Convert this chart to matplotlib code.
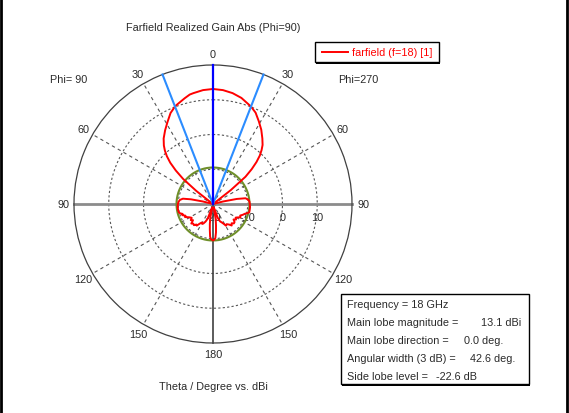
import numpy as np
import matplotlib
matplotlib.use('Agg')
import matplotlib.pyplot as plt
from matplotlib.patches import Rectangle
from matplotlib.lines import Line2D
from matplotlib.transforms import ScaledTranslation

plt.rcParams['font.family'] = 'Liberation Sans'

# Farfield realized gain (dBi) vs theta, Phi=90 cut (left half) and Phi=270 (right half)
theta_phi90 = [0, 5, 10, 12, 15, 20, 21.3, 25, 29, 33, 37, 40, 42, 44, 46, 48, 50, 52, 54,
               60, 70, 74, 76, 78, 80, 83, 86, 90, 95, 100, 104, 106, 108, 110, 113, 115,
               118, 120, 123, 126, 129, 132, 135, 138, 141, 143, 146, 149, 152, 154, 157,
               160, 163, 166, 169, 171, 173, 175, 177, 180]
gain_phi90 = [13.1, 12.9, 12.4, 12.2, 11.5, 10.4, 10.1, 8.9, 7.0, 5.3, 3.6, 2.0, 0.7, -0.9,
              -2.9, -5.6, -8.8, -14.0, -19.5, -25, -25, -22, -17, -13.5, -11.2, -10.4, -10.1,
              -9.9, -9.8, -9.8, -9.9, -10.2, -10.8, -10.6, -11.4, -11.1, -11.9, -12.3, -12.7,
              -12.1, -12.6, -11.6, -12.0, -11.8, -12.4, -12.2, -13.2, -13.8, -13.5, -13.8,
              -14.5, -15.5, -18.5, -19.0, -16.0, -14.2, -12.5, -10.5, -9.8, -9.6]

theta_phi270 = [0, 5, 10, 15, 21.3, 25, 29, 33, 37, 40, 42, 44, 46, 48, 50, 52, 54, 60, 70,
                74, 76, 78, 80, 83, 86, 90, 95, 100, 103, 105, 107, 110, 113, 116, 118, 121,
                124, 127, 130, 133, 136, 139, 142, 146, 149, 152, 155, 158, 161, 164, 167,
                170, 172, 174, 176, 178, 180]
gain_phi270 = [13.1, 12.9, 12.4, 11.6, 10.1, 9.0, 7.2, 5.5, 3.6, 2.2, 0.9, -0.6, -2.6, -5.0,
               -7.8, -13.5, -19.5, -25, -25, -22, -17, -13, -10.5, -9.8, -9.5, -9.4, -9.3,
               -9.3, -9.3, -9.8, -10.4, -10.9, -11.5, -11.2, -11.8, -12.4, -12.0, -12.6, -11.9,
               -11.8, -12.3, -11.8, -12.5, -13.0, -12.7, -13.6, -14.2, -14.6, -15.8, -18.5,
               -19.0, -15.5, -13.8, -11.8, -10.2, -9.7, -9.6]

main_lobe_dir = 0.0
beamwidth_3db = 42.6
side_lobe_gain = -9.5          # dBi, main lobe 13.1 - 22.6 dB
r_min, r_max = -20, 20
ring_levels = [-10, 0, 10]
radial_labels = [-20, -10, 0, 10]
spoke_angles = [30, 60, 120, 150]
angle_labels = [0, 30, 60, 90, 120, 150, 180]

info_labels = ['Frequency = 18 GHz', 'Main lobe magnitude =', 'Main lobe direction =',
               'Angular width (3 dB) =', 'Side lobe level =']
info_values = ['', '13.1 dBi', '0.0 deg.', '42.6 deg.', '-22.6 dB']
info_value_x = [0, 481, 464, 470, 436]

W, H = 569, 414
TXT = '#2a2a2a'
FS = 7.8
fig = plt.figure(figsize=(W / 100, H / 100), dpi=100)
fig.patch.set_facecolor('white')

# polar axes: centre (213,205) px, radius 139 px
cx, cy, R = 213, 205, 139
ax = fig.add_axes([(cx - R) / W, (H - cy - R) / H, 2 * R / W, 2 * R / H], projection='polar')
ax.set_theta_zero_location('N')
ax.set_theta_direction(-1)
ax.set_ylim(r_min, r_max)
ax.grid(False)
ax.set_xticks([])
ax.set_yticks([])
ax.spines['polar'].set_color('#404040')
ax.spines['polar'].set_linewidth(0.9)
ax.patch.set_alpha(0)

full = np.linspace(0, 2 * np.pi, 721)
for lvl in ring_levels:
    ax.plot(full, np.full_like(full, lvl), color='#555555', lw=0.8, ls=(0, (2, 2)), zorder=1)
for a in spoke_angles:
    for s in (-1, 1):
        t = np.deg2rad(s * a)
        ax.plot([t, t], [r_min, r_max], color='#555555', lw=0.8, ls=(0, (3, 3)), zorder=1)

# axis lines
ax.plot([-np.pi / 2, -np.pi / 2], [r_max, r_min], color='#8c8c8c', lw=2, zorder=2, clip_on=False)
ax.plot([np.pi / 2, np.pi / 2], [r_min, r_max], color='#8c8c8c', lw=2, zorder=2, clip_on=False)
ax.plot([np.pi, np.pi], [r_min, r_max], color='#404040', lw=1.2, zorder=2, clip_on=False)

shift = ax.transData + ScaledTranslation(0, -13 / 100, fig.dpi_scale_trans)
for v in radial_labels:
    ax.text(np.pi / 2, v, '%d' % v, ha='center', va='center', fontsize=FS,
            color=TXT, zorder=1.5, transform=shift)

r_lab = r_max + 11 / R * (r_max - r_min)
for a in angle_labels:
    for s in ((1,) if a in (0, 180) else (-1, 1)):
        ax.text(np.deg2rad(s * a), r_lab, str(a), ha='center', va='center', fontsize=FS,
                color=TXT)

# side lobe level circle
ax.plot(full, np.full_like(full, side_lobe_gain), color='#6f8f2a', lw=1.5, zorder=3)

# pattern
th = np.concatenate([-np.array(theta_phi90[::-1]), np.array(theta_phi270[1:])])
g = np.concatenate([np.array(gain_phi90[::-1]), np.array(gain_phi270[1:])])
g = np.clip(g, r_min, r_max)
line, = ax.plot(np.deg2rad(th), g, color='#ff0000', lw=1.4, zorder=4,
                label='farfield (f=18) [1]')

# 3 dB beamwidth lines and main lobe direction
for s in (-1, 1):
    t = np.deg2rad(main_lobe_dir + s * beamwidth_3db / 2)
    ax.plot([t, t], [r_min, r_max], color='#2b8cff', lw=1.5, zorder=5, clip_on=False)
t0 = np.deg2rad(main_lobe_dir)
ax.plot([t0, t0], [r_min, r_max], color='#0000ff', lw=1.6, zorder=6, clip_on=False)

# overlay in pixel coordinates for text and boxes
ov = fig.add_axes([0, 0, 1, 1], facecolor='none')
ov.set_xlim(0, W)
ov.set_ylim(H, 0)
ov.axis('off')

ov.text(213, 28, 'Farfield Realized Gain Abs (Phi=90)', ha='center', va='center', fontsize=FS, color=TXT)
ov.text(213, 387, 'Theta / Degree vs. dBi', ha='center', va='center', fontsize=FS, color=TXT)
ov.text(69, 80, 'Phi= 90', ha='center', va='center', fontsize=FS, color=TXT)
ov.text(358, 80, 'Phi=270', ha='center', va='center', fontsize=FS, color=TXT)

# legend box
ov.add_patch(Rectangle((316.5, 44.5), 124, 20, facecolor='black', edgecolor='none'))
ov.add_patch(Rectangle((315, 43), 124, 20, facecolor='white', edgecolor='black', lw=1))
ov.add_line(Line2D([322, 348], [53, 53], color=line.get_color(), lw=1.4))
ov.text(352, 53, line.get_label(), ha='left', va='center', fontsize=FS, color='#ff0000')

# info box
ov.add_patch(Rectangle((342.5, 296.5), 188, 90, facecolor='black', edgecolor='none'))
ov.add_patch(Rectangle((341, 295), 188, 90, facecolor='white', edgecolor='black', lw=1))
for i, (lab, val, vx) in enumerate(zip(info_labels, info_values, info_value_x)):
    y = 305 + 18 * i
    ov.text(347, y, lab, ha='left', va='center', fontsize=FS, color=TXT)
    if val:
        ov.text(vx, y, val, ha='left', va='center', fontsize=FS, color=TXT)

# page border (left and right)
ov.add_line(Line2D([1, 1], [0, H], color='black', lw=2))
ov.add_line(Line2D([567.5, 567.5], [0, H], color='black', lw=2))

fig.savefig('out.png', dpi=100)
